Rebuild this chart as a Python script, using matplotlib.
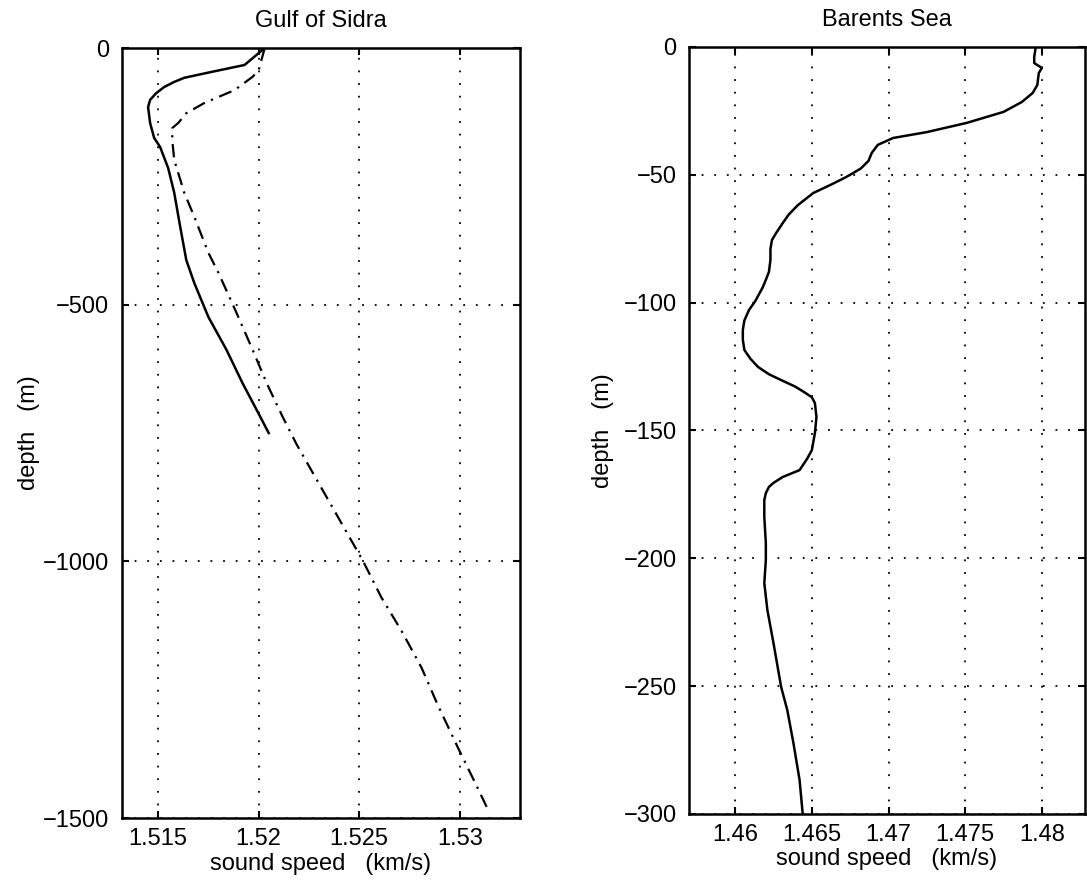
import numpy as np
import matplotlib.pyplot as plt

plt.rcParams['font.family'] = ['Liberation Sans', 'DejaVu Sans']

# Gulf of Sidra: measured profile (solid)
sidra_speed = [1.5203, 1.5193, 1.5176, 1.5163, 1.5158, 1.5153, 1.5149, 1.5146,
               1.5145, 1.5146, 1.5148, 1.5151, 1.5155, 1.5158, 1.5161, 1.5164,
               1.5168, 1.5175, 1.5184, 1.5192, 1.5199, 1.5205]
sidra_depth = [0, -33, -47, -58, -66, -76, -88, -101, -115, -146, -175, -193,
               -234, -282, -349, -413, -458, -524, -588, -653, -705, -750]

# Gulf of Sidra: extended profile (dash-dot)
sidra2_speed = [1.5203, 1.5200, 1.5197, 1.5188, 1.5173, 1.5164, 1.5160, 1.5157,
                1.5157, 1.5158, 1.5163, 1.5168, 1.5175, 1.5180, 1.5189, 1.5197,
                1.5204, 1.5212, 1.5219, 1.5252, 1.5261, 1.5271, 1.5281, 1.5289,
                1.5299, 1.5307, 1.5314]
sidra2_depth = [0, -43, -56, -82, -107, -127, -146, -156, -179, -218, -282,
                -329, -399, -438, -516, -588, -653, -719, -773, -1000, -1070,
                -1135, -1207, -1279, -1362, -1426, -1483]

# Barents Sea profile
barents_depth = [0, -3.9, -6.3, -8.2, -10.2, -14.9, -18, -21.5, -25.4, -29.7,
                 -33.3, -35.6, -38.3, -41.5, -44.5, -47.5, -49.3, -51, -54,
                 -57.1, -61.8, -65.5, -68.9, -72.5, -75.5, -79, -83.3, -88,
                 -91.1, -94, -96.2, -99.5, -102.9, -107, -110.7, -114.5,
                 -118.5, -122, -125.2, -128, -130.3, -132.8, -135, -137,
                 -139.3, -144.7, -151, -157.7, -161, -165.5, -168.2, -170.5,
                 -172.1, -174.5, -177.2, -183.9, -194, -200.7, -209.7, -220.2,
                 -233.2, -250.4, -259.4, -272.3, -286.7, -299.7]
barents_speed = [1.4796, 1.4795, 1.4795, 1.4800, 1.4798, 1.4797, 1.4794, 1.4787,
                 1.4775, 1.4751, 1.4725, 1.4703, 1.4693, 1.4689, 1.4687, 1.4682,
                 1.4677, 1.4672, 1.4662, 1.4651, 1.4641, 1.4635, 1.4631, 1.4627,
                 1.4624, 1.4623, 1.4623, 1.4622, 1.4620, 1.4618, 1.4616, 1.4613,
                 1.4609, 1.4606, 1.4605, 1.4605, 1.4606, 1.4610, 1.4615, 1.4622,
                 1.4630, 1.4639, 1.4645, 1.4650, 1.4652, 1.4653, 1.4652, 1.4650,
                 1.4647, 1.4642, 1.4631, 1.4625, 1.4622, 1.4620, 1.4619, 1.4619,
                 1.4620, 1.4620, 1.4619, 1.4621, 1.4625, 1.4630, 1.4634, 1.4638,
                 1.4642, 1.4644]

sidra_xticks = [1.515, 1.52, 1.525, 1.53]
sidra_xlabels = ['1.515', '1.52', '1.525', '1.53']
sidra_yticks = [-1500, -1000, -500, 0]
barents_xticks = [1.46, 1.465, 1.47, 1.475, 1.48]
barents_xlabels = ['1.46', '1.465', '1.47', '1.475', '1.48']
barents_yticks = [-300, -250, -200, -150, -100, -50, 0]


def style_axes(ax, title):
  ax.set_title(title, fontsize=17, pad=15)
  ax.set_xlabel('sound speed   (km/s)', fontsize=17, labelpad=2)
  ax.set_ylabel('depth   (m)', fontsize=17)
  ax.tick_params(axis='both', direction='in', top=True, right=True, length=5,
                 width=1.5, labelsize=17)
  ax.tick_params(axis='x', pad=7)
  ax.tick_params(axis='y', pad=9)
  ax.grid(True, linestyle=(0, (1, 6)), color='black', linewidth=1.3)
  for s in ax.spines.values():
    s.set_linewidth(1.8)


fig = plt.figure(figsize=(10.87, 8.86), dpi=100)

ax1 = fig.add_axes([0.1122, 0.0767, 0.3662, 0.8691])
ax1.plot(sidra_speed, sidra_depth, '-', color='black', lw=1.8)
ax1.plot(sidra2_speed, sidra2_depth, color='black', lw=1.6, linestyle=(0, (6, 3, 1, 3)))
ax1.set_xlim(1.5132, 1.533)
ax1.set_ylim(-1500, 0)
ax1.set_xticks(sidra_xticks)
ax1.set_xticklabels(sidra_xlabels)
ax1.set_yticks(sidra_yticks)
style_axes(ax1, 'Gulf of Sidra')
ax1.yaxis.set_label_coords(-0.205, 0.5)

ax2 = fig.add_axes([0.634, 0.0813, 0.364, 0.8657])
ax2.plot(barents_speed, barents_depth, '-', color='black', lw=1.8)
ax2.set_xlim(1.457, 1.4828)
ax2.set_ylim(-300, 0)
ax2.set_xticks(barents_xticks)
ax2.set_xticklabels(barents_xlabels)
ax2.set_yticks(barents_yticks)
style_axes(ax2, 'Barents Sea')
ax2.yaxis.set_label_coords(-0.19, 0.5)

fig.savefig('out.png', dpi=100)
